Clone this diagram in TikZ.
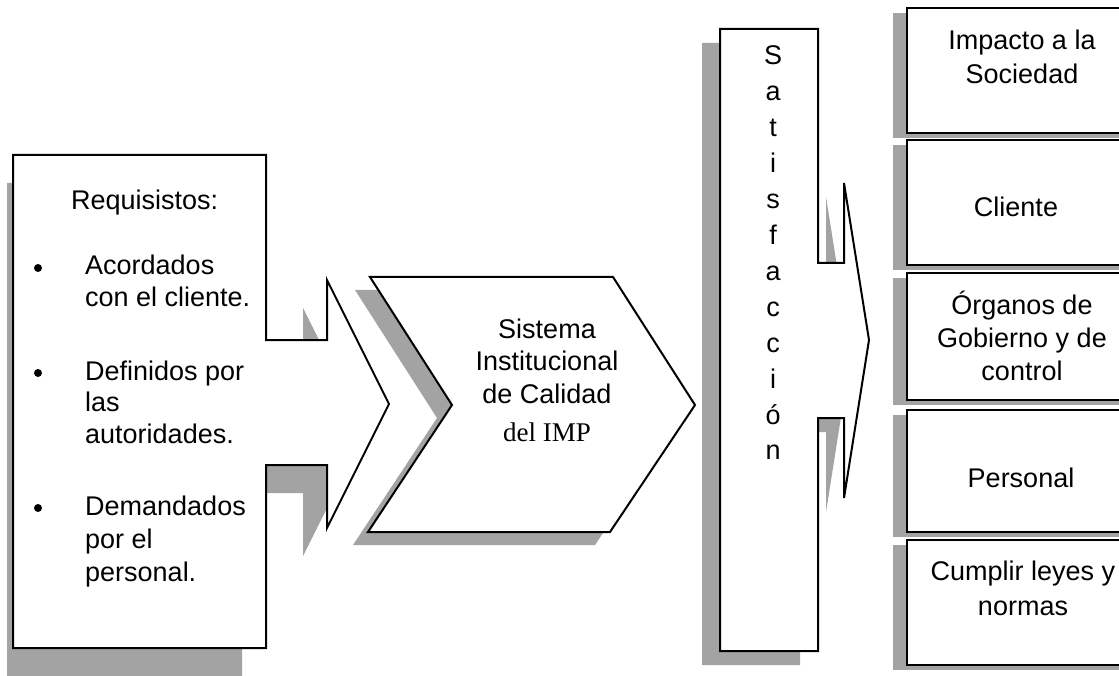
\documentclass[tikz,border=0pt]{standalone}
\usepackage{fontspec}
\setmainfont{Liberation Sans}
\newfontfamily\timesfont{Liberation Serif}
\begin{document}
\begin{tikzpicture}[x=1pt,y=-1pt,
  shad/.style={fill=black!36,draw=none},
  shp/.style={fill=white,draw=black,line width=2pt,line join=miter},
  t/.style={inner sep=0pt,font=\fontsize{27}{33}\selectfont},
  bul/.style={circle,fill=black,inner sep=0pt,minimum size=8pt}]
\useasboundingbox (0,0) rectangle (1119,676);
\clip (0,0) rectangle (1119,676);
\fill[white] (0,0) rectangle (1119,676);
% ---- shadows
\begin{scope}
  \clip (7,0) rectangle (1119,676);
  \fill[shad,shift={(-24pt,-28pt)}] (13,155) -- (266,155) -- (266,340) -- (327,340) -- (327,280) -- (389,404) -- (327,528) -- (327,465) -- (266,465) -- (266,648) -- (13,648) -- cycle;
\end{scope}
\fill[shad,shift={(-15pt,-13pt)}] (370,277) -- (613,277) -- (695,405) -- (610,532) -- (368,532) -- (452,405) -- cycle;
\fill[shad,shift={(-18pt,-14pt)}] (720,29) -- (818,29) -- (818,263) -- (844,263) -- (844,183) -- (869,340) -- (844,498) -- (844,418) -- (818,418) -- (818,651) -- (720,651) -- cycle;
\foreach \ya/\yb in {8/133,140/265,273/400,410/532,540/665}
  \fill[shad,shift={(-14pt,-5pt)}] (907,\ya) rectangle (1135,\yb);
% ---- shapes
\draw[shp] (13,155) -- (266,155) -- (266,340) -- (327,340) -- (327,280) -- (389,404) -- (327,528) -- (327,465) -- (266,465) -- (266,648) -- (13,648) -- cycle;
\draw[shp] (370,277) -- (613,277) -- (695,405) -- (610,532) -- (368,532) -- (452,405) -- cycle;
\draw[shp] (720,29) -- (818,29) -- (818,263) -- (844,263) -- (844,183) -- (869,340) -- (844,498) -- (844,418) -- (818,418) -- (818,651) -- (720,651) -- cycle;
\foreach \ya/\yb in {8/133,140/265,273/400,410/532,540/665}
  \draw[shp] (907,\ya) rectangle (1135,\yb);
% ---- left box text
\node[t,anchor=base west] (req) at (71,210) {Requisistos:};
\node[bul] (b1) at (38,268) {};
\node[t,anchor=base west] (a1) at (85,275) {Acordados};
\node[t,anchor=base west] (a2) at (85,307) {con el cliente.};
\node[bul] (b2) at (38,373) {};
\node[t,anchor=base west] (d1) at (85,380) {Definidos por};
\node[t,anchor=base west] (d2) at (85,411) {las};
\node[t,anchor=base west] (d3) at (85,443) {autoridades.};
\node[bul] (b3) at (38,508) {};
\node[t,anchor=base west] (m1) at (85,515) {Demandados};
\node[t,anchor=base west] (m2) at (85,548) {por el};
\node[t,anchor=base west] (m3) at (85,581) {personal.};
% ---- chevron text
\node[t,anchor=base] (c1) at (547,338) {Sistema};
\node[t,anchor=base] (c2) at (547,370) {Institucional};
\node[t,anchor=base] (c3) at (547,403) {de Calidad};
\node[t,anchor=base,font=\fontsize{27}{33}\timesfont] (c4) at (547,441) {del IMP};
% ---- Satisfaccion
\foreach \ch [count=\i from 0] in {S,a,t,i,s,f,a,c,c,i,ó,n}
  \node[t,anchor=base] (s\i) at (773,65+35.9*\i) {\ch};
% ---- right boxes text
\node[t,anchor=base] (r1a) at (1022,50) {Impacto a la};
\node[t,anchor=base] (r1b) at (1022,84) {Sociedad};
\node[t,anchor=base] (r2) at (1016,217) {Cliente};
\node[t,anchor=base] (r3a) at (1022,315) {Órganos de};
\node[t,anchor=base] (r3b) at (1022,347) {Gobierno y de};
\node[t,anchor=base] (r3c) at (1022,380) {control};
\node[t,anchor=base] (r4) at (1021,487) {Personal};
\node[t,anchor=base] (r5a) at (1023,580) {Cumplir leyes y};
\node[t,anchor=base] (r5b) at (1023,615) {normas};
\end{tikzpicture}
\end{document}
